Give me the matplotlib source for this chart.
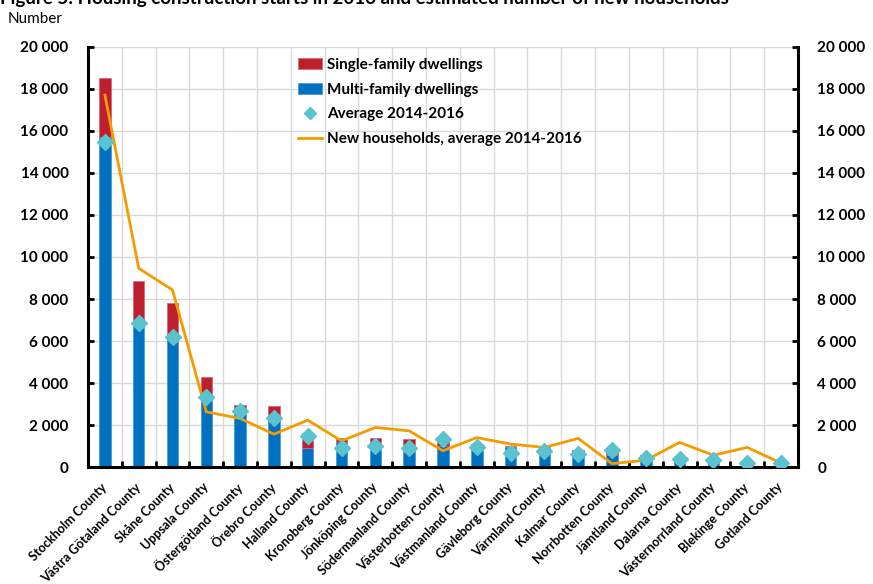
import numpy as np
import matplotlib.pyplot as plt
from matplotlib.ticker import FuncFormatter, MultipleLocator

plt.rcParams['font.family'] = ['Lato', 'DejaVu Sans']

counties = ["Stockholm County", "Västra Götaland County", "Skåne County", "Uppsala County",
            "Östergötland County", "Örebro County", "Halland County", "Kronoberg County",
            "Jönköping County", "Södermanland County", "Västerbotten County",
            "Västmanland County", "Gävleborg County", "Värmland County", "Kalmar County",
            "Norrbotten County", "Jämtland County", "Dalarna County",
            "Västernorrland County", "Blekinge County", "Gotland County"]

# housing starts 2016
multi_family = [15700, 6800, 6200, 3500, 2800, 2480, 890, 1200, 1100, 730, 1000,
                940, 940, 950, 730, 570, 460, 400, 350, 200, 180]
single_family = [2800, 2070, 1630, 800, 150, 420, 740, 210, 310, 620, 250,
                 160, 60, 50, 110, 270, 110, 60, 50, 50, 20]
# average starts 2014-2016
average_14_16 = [15450, 6840, 6200, 3320, 2680, 2320, 1480, 890, 1000, 920, 1320,
                 940, 680, 780, 620, 840, 460, 370, 330, 200, 200]
# new households, average 2014-2016
new_households = [17700, 9460, 8430, 2630, 2320, 1570, 2240, 1250, 1890, 1730, 780,
                  1410, 1100, 940, 1370, 170, 330, 1180, 570, 940, 200]

red = "#BE1E2D"
blue = "#0070C0"
cyan = "#5BC2CF"
orange = "#F59B00"

fig = plt.figure(figsize=(8.73, 5.84), dpi=100)
ax = fig.add_axes([0.1008, 0.2, 0.8132, 0.72])

x = np.arange(len(counties))
b_multi = ax.bar(x, multi_family, width=0.34, color=blue, edgecolor="#4A9AD6", linewidth=0.6,
                 zorder=2)
b_single = ax.bar(x, single_family, width=0.34, bottom=multi_family, color=red,
                  edgecolor="#D46A74", linewidth=0.6, zorder=2)
l_new, = ax.plot(x, new_households, color=orange, lw=2, zorder=3)
l_avg, = ax.plot(x, average_14_16, ls="none", marker="D", ms=8, color=cyan, mec=cyan, zorder=4)

ax.set_xlim(-0.5, len(counties) - 0.5)
ax.set_ylim(0, 20000)
ax.yaxis.set_major_locator(MultipleLocator(2000))
ax.yaxis.set_major_formatter(FuncFormatter(lambda v, p: f"{int(v):,}".replace(",", " ")))

# boundaries between counties carry the x ticks and vertical grid
ax.set_xticks(x + 0.5, minor=False)
ax.set_xticklabels([])
ax.set_xticks(x, minor=True)
ax.set_xticklabels(counties, minor=True, rotation=45, ha="right", va="center",
                   rotation_mode="anchor", fontsize=9, fontweight="bold")
ax.tick_params(axis="x", which="minor", length=0, pad=13)
ax.tick_params(axis="x", which="major", direction="in", length=4, width=2, color="black")

ax.tick_params(axis="y", direction="in", length=4, width=2, left=True, right=True,
               labelleft=True, labelright=True, pad=14, labelsize=11)
for lab in ax.get_yticklabels():
    lab.set_fontweight("bold")

ax.grid(True, which="major", color="#D9D9D9", lw=1, zorder=0)
ax.set_axisbelow(True)
ax.spines["top"].set_visible(False)
for s in ("left", "right", "bottom"):
    ax.spines[s].set_linewidth(2.2)
    ax.spines[s].set_color("black")

ax.legend([b_single, b_multi, l_avg, l_new],
          ["Single-family dwellings", "Multi-family dwellings", "Average 2014-2016",
           "New households, average 2014-2016"],
          loc="upper left", bbox_to_anchor=(0.287, 0.988), frameon=False,
          prop={"weight": "bold", "size": 11}, labelspacing=0.7, markerscale=0.8,
          handlelength=1.6, handletextpad=0.3, borderaxespad=0)

fig.text(0.0, 0.9932, "Figure 5: Housing construction starts in 2016 and estimated number of new households",
         fontsize=13.5, fontweight="bold", va="baseline", ha="left")
fig.text(0.009, 0.968, "Number", fontsize=11, va="center", ha="left")

fig.savefig("out.png", dpi=100)
